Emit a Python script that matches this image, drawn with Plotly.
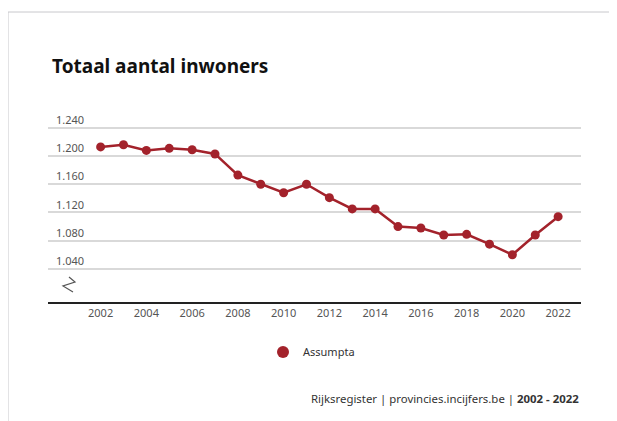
"""Line chart: total number of inhabitants, Assumpta."""

import plotly.graph_objects as go

years = list(range(2002, 2023))
inwoners = [1213, 1216, 1208, 1211, 1209, 1203, 1173, 1160, 1148, 1160, 1141,
            1125, 1125, 1100, 1098, 1088, 1089, 1075, 1060, 1088, 1114]
y_ticks = [1040, 1080, 1120, 1160, 1200, 1240]
y_tick_labels = ["1.040", "1.080", "1.120", "1.160", "1.200", "1.240"]
x_ticks = list(range(2002, 2023, 2))

line_color = "#a3222b"
font_family = "Noto Sans, Open Sans, sans-serif"

# page has an 8px body margin, so the figure is drawn 8px in from the corner
OFF = 8
W, H = 609, 413
L, T = 48 - OFF, 112 - OFF
R = W - (581 - OFF)
B = H - (302 - OFF)
pw, ph = W - L - R, H - T - B


def px_x(p):
    return (p - OFF - L) / pw


def px_y(p):
    return (H - B - (p - OFF)) / ph


fig = go.Figure()
fig.add_trace(
    go.Scatter(
        x=years,
        y=inwoners,
        name="Assumpta",
        mode="lines+markers",
        line=dict(color=line_color, width=2.5),
        marker=dict(color=line_color, size=9),
        showlegend=False,
    )
)
# legend entry shows only the dot
fig.add_trace(
    go.Scatter(
        x=[None], y=[None], name="Assumpta", mode="markers",
        marker=dict(color=line_color, size=12),
    )
)

# card border
fig.add_shape(
    type="rect", xref="paper", yref="paper",
    x0=px_x(8), x1=px_x(613), y0=px_y(440), y1=px_y(12),
    line=dict(color="#c8c8cc", width=1), fillcolor="rgba(0,0,0,0)", layer="below",
)
# axis break zigzag
zz = [(69, 277), (75, 282), (63, 286), (73, 292)]
path = "M " + " L ".join(f"{px_x(a)},{px_y(b)}" for a, b in zz)
fig.add_shape(type="path", xref="paper", yref="paper", path=path,
              line=dict(color="#555555", width=1.2))

fig.add_annotation(
    text="Totaal aantal inwoners", xref="paper", yref="paper",
    x=px_x(50), y=px_y(66), xanchor="left", yanchor="middle", showarrow=False,
    font=dict(family=font_family, size=19, color="#111111", weight="bold"),
)
fig.add_annotation(
    text="Rijksregister | provincies.incijfers.be | <b>2002 - 2022</b>",
    xref="paper", yref="paper", x=px_x(581), y=px_y(398),
    xanchor="right", yanchor="middle", showarrow=False,
    font=dict(family=font_family, size=11.4, color="#333333"),
)

fig.update_layout(
    width=W,
    height=H,
    margin=dict(l=L, r=R, t=T, b=B),
    paper_bgcolor="white",
    plot_bgcolor="white",
    showlegend=True,
    legend=dict(
        orientation="h", x=px_x(263), xanchor="left", y=px_y(352), yanchor="middle",
        font=dict(family=font_family, size=11, color="#333333"),
        itemsizing="constant",
        itemwidth=30,
    ),
    xaxis=dict(
        range=[1999.7, 2023.0],
        tickvals=x_ticks,
        tickfont=dict(family=font_family, size=11, color="#555555"),
        showgrid=False,
        showline=True,
        linecolor="#222222",
        linewidth=1.5,
        ticks="",
        zeroline=False,
    ),
    yaxis=dict(
        range=[993, 1262.5],
        tickvals=y_ticks,
        ticktext=y_tick_labels,
        ticklabelposition="inside top",
        ticklabelstandoff=5,
        tickfont=dict(family=font_family, size=11, color="#555555"),
        showgrid=True,
        gridcolor="#d9d9d9",
        gridwidth=1.5,
        zeroline=False,
        ticks="",
    ),
)

fig.write_html("out.html")
